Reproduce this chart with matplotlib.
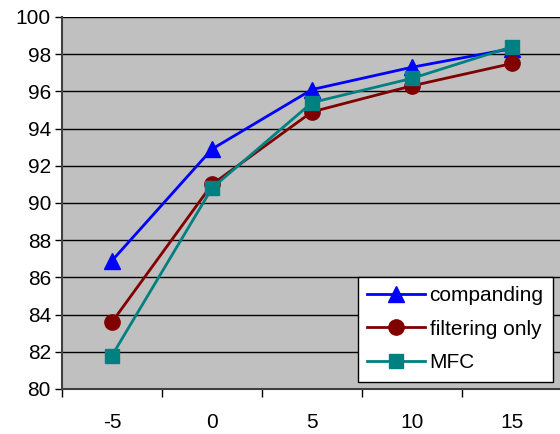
import matplotlib
matplotlib.use('Agg')
import matplotlib.pyplot as plt

snr = ['-5', '0', '5', '10', '15']
companding = [86.9, 92.9, 96.1, 97.3, 98.3]
filtering_only = [83.6, 91.0, 94.9, 96.3, 97.5]
mfc = [81.8, 90.8, 95.4, 96.7, 98.4]
y_ticks = list(range(80, 101, 2))

plt.rcParams['font.family'] = ['Liberation Sans', 'DejaVu Sans']

fig = plt.figure(figsize=(5.6, 4.34), dpi=100)
ax = fig.add_axes([62 / 560, 1 - 389 / 434, 500 / 560, 372 / 434])
ax.set_facecolor('#C0C0C0')

x = range(len(snr))
ax.plot(x, companding, color='#0000FF', lw=2, marker='^', ms=11, label='companding', zorder=3)
ax.plot(x, filtering_only, color='#800000', lw=2, marker='o', ms=11, label='filtering only', zorder=3)
ax.plot(x, mfc, color='#008080', lw=2, marker='s', ms=10, label='MFC', zorder=3)

ax.set_xlim(-0.5, len(snr) - 0.5)
ax.set_ylim(80, 100)
ax.set_yticks(y_ticks)
ax.set_yticklabels([str(v) for v in y_ticks], fontsize=15)
ax.set_xticks(list(x))
ax.set_xticklabels(snr, fontsize=15)
ax.set_xticks([i - 0.5 for i in range(len(snr) + 1)], minor=True)
ax.tick_params(axis='x', which='major', length=0, pad=17)
ax.tick_params(axis='x', which='minor', length=6, width=1)
ax.tick_params(axis='y', length=5, width=1, pad=3)
ax.grid(axis='y', color='black', lw=1, zorder=1)
ax.set_axisbelow(True)

for s in ['top', 'right']:
    ax.spines[s].set_visible(False)
for s in ['left', 'bottom']:
    ax.spines[s].set_color('#404040')
    ax.spines[s].set_linewidth(1.5)

leg = ax.legend(loc='lower right', bbox_to_anchor=(0.982, 0.02), fontsize=15, fancybox=False,
                framealpha=1, edgecolor='black', handlelength=2.8, handletextpad=0.2,
                borderpad=0.45, labelspacing=0.7, borderaxespad=0)
leg.get_frame().set_linewidth(1)

fig.savefig('out.png', dpi=100)
